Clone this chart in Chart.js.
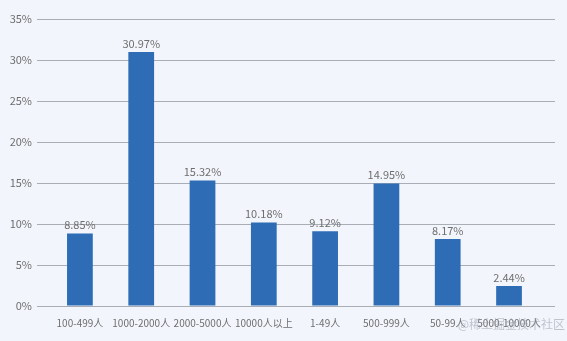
<!DOCTYPE html>
<html>
<head>
<meta charset="utf-8">
<script src="https://cdn.jsdelivr.net/npm/chart.js@4/dist/chart.umd.min.js"></script>
<style>
html,body{margin:0;padding:0;background:#f2f5fb;}
#wrap{position:relative;width:567px;height:341px;}
#wm{position:absolute;right:2px;top:315px;font:12px "Noto Sans CJK SC",sans-serif;color:rgba(150,155,165,.55);}
</style>
</head>
<body>
<div id="wrap"><canvas id="c" width="567" height="341"></canvas><div id="wm">@稀土掘金技术社区</div></div>
<script>
const categories=['100-499人','1000-2000人','2000-5000人','10000人以上','1-49人','500-999人','50-99人','5000-10000人'];
const shares=[8.85,30.97,15.32,10.18,9.12,14.95,8.17,2.44];
const yTicks=[0,5,10,15,20,25,30,35];

const txt='#6e6e6e';
const font={family:'"Noto Sans CJK SC","Noto Sans",sans-serif',size:11};

const barLabels={
  id:'barLabels',
  afterDatasetsDraw(chart){
    const ctx=chart.ctx, meta=chart.getDatasetMeta(0);
    ctx.save();
    ctx.font='11px '+font.family;
    ctx.fillStyle=txt;
    ctx.textAlign='center';
    ctx.textBaseline='bottom';
    meta.data.forEach((b,i)=>{ ctx.fillText(shares[i].toFixed(2)+'%', b.x, b.y-3); });
    ctx.restore();
  }
};

new Chart(document.getElementById('c').getContext('2d'),{
  type:'bar',
  data:{datasets:[{
    data:shares.map((v,i)=>({x:i,y:v})),
    backgroundColor:'#2e6db6',
    barPercentage:0.42,
    categoryPercentage:1
  }]},
  options:{
    responsive:false,
    animation:false,
    layout:{padding:{top:19,right:12,left:0,bottom:0}},
    plugins:{legend:{display:false},tooltip:{enabled:false}},
    scales:{
      x:{
        type:'linear',min:-0.70,max:7.75,offset:false,
        grid:{display:false},border:{display:false},
        afterBuildTicks:s=>{s.ticks=categories.map((c,i)=>({value:i}));},
        afterFit:s=>{s.height=35;},
        ticks:{padding:3,color:txt,font:{family:font.family,size:10},maxRotation:0,autoSkip:false,callback:v=>categories[v]}
      },
      y:{
        min:0,max:35,
        afterBuildTicks:s=>{s.ticks=yTicks.map(v=>({value:v}));},
        afterFit:s=>{s.width=37;},
        border:{display:false},
        grid:{color:'#a9adb5',lineWidth:1,drawTicks:false},
        ticks:{padding:5,color:txt,font,callback:v=>v+'%'}
      }
    }
  },
  plugins:[barLabels]
});
</script>
</body>
</html>
